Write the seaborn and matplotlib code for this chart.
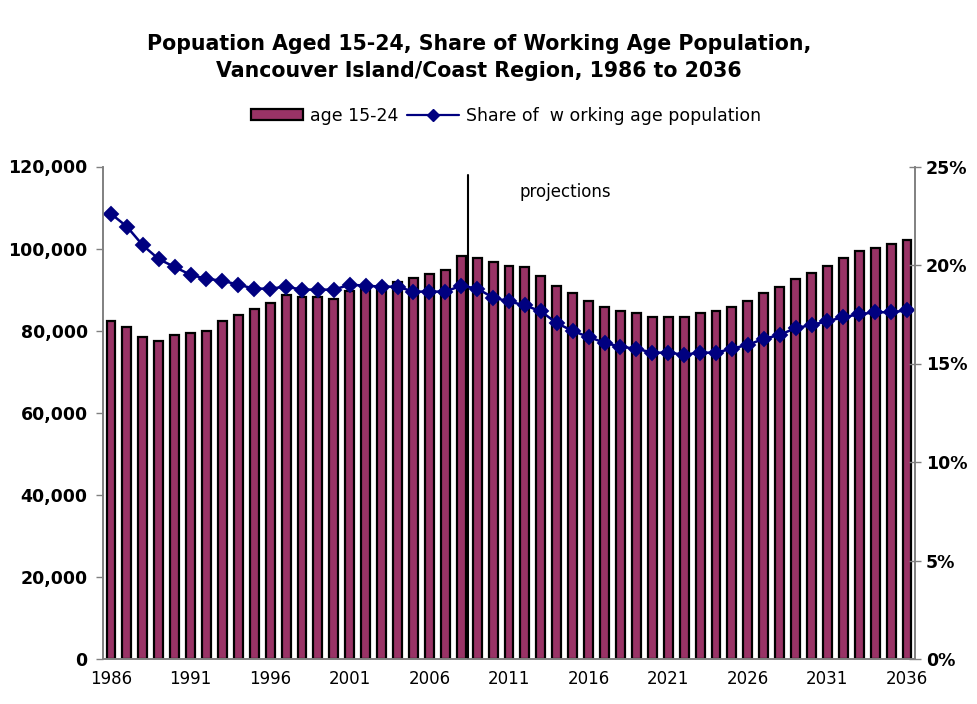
import numpy as np
import pandas as pd
import matplotlib
matplotlib.use("Agg")
import matplotlib.pyplot as plt
import seaborn as sns
from matplotlib.ticker import FixedLocator
from matplotlib.patches import Patch
from matplotlib.lines import Line2D

# ---------------- data ----------------
years = list(range(1986, 2037))
age_15_24 = [82400, 81000, 78500, 77500, 79000, 79400, 80000, 82400, 83900, 85300,
             86700, 88700, 88200, 88100, 87800, 89700, 90200, 91000, 91900, 92900,
             93900, 94900, 98200, 97700, 96800, 95800, 95400, 93400, 90900, 89200,
             87200, 85800, 84800, 84300, 83300, 83300, 83300, 84300, 84800, 85800,
             87200, 89100, 90700, 92500, 94000, 95800, 97700, 99300, 100200, 101200,
             102100]
share_pct = [22.6, 21.95, 21.0, 20.3, 19.9, 19.5, 19.3, 19.2, 19.0, 18.8,
             18.8, 18.9, 18.75, 18.75, 18.75, 19.0, 18.95, 18.9, 18.9, 18.65,
             18.65, 18.65, 18.95, 18.8, 18.35, 18.15, 17.95, 17.65, 17.05, 16.65,
             16.35, 16.05, 15.85, 15.75, 15.55, 15.55, 15.45, 15.55, 15.55, 15.75,
             15.95, 16.25, 16.45, 16.8, 16.95, 17.15, 17.35, 17.5, 17.6, 17.6,
             17.7]
tick_years = [1986, 1991, 1996, 2001, 2006, 2011, 2016, 2021, 2026, 2031, 2036]
left_ticks = [0, 20000, 40000, 60000, 80000, 100000, 120000]
right_ticks = [0, 5, 10, 15, 20, 25]
bar_label = "age 15-24"
line_label = "Share of  w orking age population"
title = "Popuation Aged 15-24, Share of Working Age Population,\nVancouver Island/Coast Region, 1986 to 2036"

BAR_COLOR = "#993366"
LINE_COLOR = "#000080"
GREY = "#808080"

sns.set_style("white")
plt.rcParams["font.family"] = ["DejaVu Sans"]
plt.rcParams["text.color"] = "black"
plt.rcParams["xtick.labelcolor"] = "black"
plt.rcParams["ytick.labelcolor"] = "black"

df = pd.DataFrame({"year": [str(y) for y in years], "pop": age_15_24, "share": share_pct})

fig = plt.figure(figsize=(9.77, 7.04), dpi=100)
ax = fig.add_axes([103 / 977, 1 - 659 / 704, (915 - 103) / 977, (659 - 166.5) / 704])

sns.barplot(data=df, x="year", y="pop", ax=ax, color=BAR_COLOR, saturation=1,
            width=0.56, edgecolor="black", linewidth=1.6, errorbar=None, zorder=2)

ax2 = ax.twinx()
sns.pointplot(data=df, x="year", y="share", ax=ax2, color=LINE_COLOR, markers="D",
              markersize=7.5, linewidth=1.8, errorbar=None)

# axes limits/ticks
ax.set_xlim(-0.5, len(years) - 0.5)
ax.set_ylim(0, 120000)
ax2.set_ylim(0, 25)

pos = [years.index(y) for y in tick_years]
ax.set_xticks(pos, labels=[str(y) for y in tick_years], fontsize=12)
ax.xaxis.set_minor_locator(FixedLocator(np.arange(-0.5, len(years), 1)))
ax.tick_params(axis="x", which="major", length=0, pad=8, labelcolor="black")
ax.tick_params(axis="x", which="minor", length=5, direction="out", color=GREY, width=1)

ax.set_yticks(left_ticks, labels=[f"{v:,}" for v in left_ticks], fontweight="bold", fontsize=12.5)
ax.tick_params(axis="y", length=5, direction="out", color=GREY, width=1, pad=6, labelcolor="black")
ax2.set_yticks(right_ticks, labels=[f"{v}%" for v in right_ticks], fontweight="bold", fontsize=12.5)
ax2.tick_params(axis="y", length=8, direction="inout", color=GREY, width=1, pad=4, labelcolor="black")

for a in (ax, ax2):
    a.set_xlabel("")
    a.set_ylabel("")
    a.spines["top"].set_visible(False)
    for s in ("left", "right", "bottom"):
        a.spines[s].set_color(GREY)
        a.spines[s].set_linewidth(1.2)
    a.grid(False)

# projections marker line and label
ax.axvline(22.4, ymin=0, ymax=(659 - 175) / 492.5, color="black", linewidth=1.5, zorder=3)
ax.text((520 - 103) / 812, (659 - 192) / 492.5, "projections", transform=ax.transAxes,
        ha="left", va="center", fontsize=12, color="black")

# legend
handles = [Patch(facecolor=BAR_COLOR, edgecolor="black", linewidth=1.6),
           Line2D([], [], color=LINE_COLOR, marker="D", markersize=6.5, linewidth=1.6)]
fig.legend(handles, [bar_label, line_label], loc="center",
           bbox_to_anchor=(506 / 977, 1 - 116 / 704), ncol=2, frameon=False,
           fontsize=12.5, handlelength=3.0, handleheight=0.6, columnspacing=0.5,
           handletextpad=0.4, labelcolor="black")

fig.text(0.49, 1 - 34 / 704, title, ha="center", va="top", fontsize=14.8,
         fontweight="bold", linespacing=1.45, color="black")

fig.savefig("out.png", dpi=100)
